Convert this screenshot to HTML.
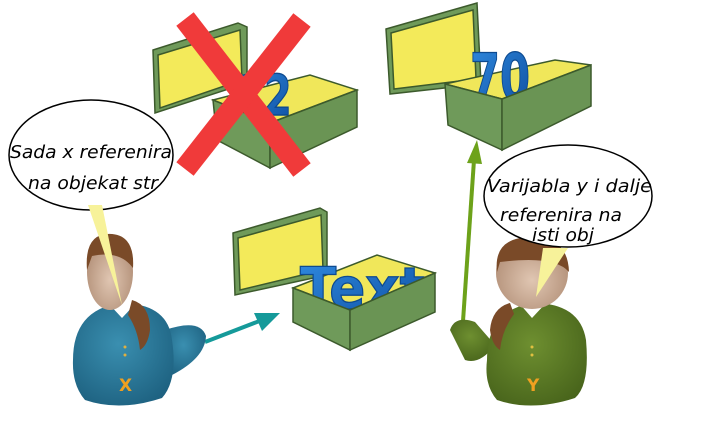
<!DOCTYPE html>
<html><head><meta charset="utf-8"><style>
html,body{margin:0;padding:0;background:#fff;}
svg{display:block;}
text{font-family:"DejaVu Sans","Liberation Sans",sans-serif;}
</style></head><body>
<svg width="705" height="423" viewBox="0 0 705 423" xmlns="http://www.w3.org/2000/svg">
<defs>
<radialGradient id="skin" cx="50%" cy="60%" r="60%"><stop offset="0" stop-color="#e0c6b2"/><stop offset="1" stop-color="#b08d75"/></radialGradient>
<radialGradient id="blue" cx="45%" cy="40%" r="70%"><stop offset="0" stop-color="#3a8fb0"/><stop offset="1" stop-color="#1c5f7e"/></radialGradient>
<radialGradient id="green" cx="45%" cy="40%" r="70%"><stop offset="0" stop-color="#6e8f30"/><stop offset="1" stop-color="#46621a"/></radialGradient>
<linearGradient id="num" x1="0" y1="0" x2="1" y2="1"><stop offset="0" stop-color="#2f8ae0"/><stop offset="1" stop-color="#0f4fa0"/></linearGradient>
</defs>

<!-- Box 1 -->
<g stroke="#3c5a2c" stroke-width="1.5">
<polygon points="153,50 238,23 247,27 247,83 155,113" fill="#6f9a5a"/>
<polygon points="158,55 240,30 242,80 160,108" fill="#f3ea5a"/>
<polygon points="213,100 310,75 357,90 270,123" fill="#f0e75a"/>
</g>
<text transform="translate(236,115) scale(1,1.4)" font-size="40" font-weight="bold" fill="url(#num)" stroke="#0d4a90" stroke-width="1" font-family="Liberation Sans">12</text>
<g stroke="#3c5a2c" stroke-width="1.5">
<polygon points="213,100 270,123 270,168 217,140" fill="#6f9a5a"/>
<polygon points="270,123 357,90 357,127 270,168" fill="#6a9454"/>
</g>

<!-- Box 2 -->
<g stroke="#3c5a2c" stroke-width="1.5">
<polygon points="386,29 477,3 481,84 390,94" fill="#6f9a5a"/>
<polygon points="391,33 473,10 476,79 394,89" fill="#f3ea5a"/>
<polygon points="445,84 555,60 591,65 502,99" fill="#f0e75a"/>
</g>
<text transform="translate(470,100) scale(0.9,1.35)" font-size="48" font-weight="bold" fill="url(#num)" stroke="#0d4a90" stroke-width="1" font-family="Liberation Sans">70</text>
<g stroke="#3c5a2c" stroke-width="1.5">
<polygon points="445,84 502,99 502,150 448,125" fill="#6f9a5a"/>
<polygon points="502,99 591,65 591,106 502,150" fill="#6a9454"/>
</g>

<!-- Box 3 -->
<g stroke="#3c5a2c" stroke-width="1.5">
<polygon points="233,233 320,208 327,212 327,275 235,295" fill="#6f9a5a"/>
<polygon points="238,238 321,215 323,270 240,290" fill="#f3ea5a"/>
<polygon points="293,288 377,255 435,273 350,310" fill="#f0e75a"/>
</g>
<text transform="translate(300,308) scale(1,1.3)" font-size="44" font-weight="bold" fill="url(#num)" stroke="#0d4a90" stroke-width="1" font-family="Liberation Sans" textLength="125" lengthAdjust="spacingAndGlyphs">Text</text>
<g stroke="#3c5a2c" stroke-width="1.5">
<polygon points="293,288 350,310 350,350 293,322" fill="#6f9a5a"/>
<polygon points="350,310 435,273 435,312 350,350" fill="#6a9454"/>
</g>

<!-- Red X -->
<g stroke="#f03a3a" stroke-width="22" stroke-linecap="butt">
<line x1="185" y1="19" x2="302" y2="170"/>
<line x1="302" y1="20" x2="185" y2="169"/>
</g>

<!-- arrows -->
<line x1="205" y1="342" x2="262" y2="320" stroke="#159a9a" stroke-width="4"/>
<polygon points="280,313 254,313 262,331" fill="#159a9a"/>
<line x1="462" y1="336" x2="474" y2="160" stroke="#6da21a" stroke-width="4"/>
<polygon points="477,140 467,163 482,164" fill="#6da21a"/>

<!-- Person X -->
<path d="M165,330 Q200,318 206,336 Q205,358 172,375 Z" fill="url(#blue)"/>
<path d="M73,360 Q73,310 120,303 Q168,303 172,340 Q178,380 162,398 Q120,412 85,400 Q72,385 73,360 Z" fill="url(#blue)"/>
<path d="M108,303 L122,318 L136,303 Z" fill="#fff"/>
<ellipse cx="110" cy="272" rx="23" ry="38" fill="url(#skin)"/>
<path d="M87,270 Q84,232 112,234 Q135,236 133,268 Q120,250 92,256 Z" fill="#7a4a28"/>
<path d="M132,300 Q150,305 150,330 Q148,345 140,350 Q138,330 128,315 Z" fill="#7a4a28"/>
<circle cx="125" cy="347" r="1.5" fill="#e0b040"/><circle cx="125" cy="355" r="1.5" fill="#e0b040"/>
<text x="119" y="391" font-size="17" font-weight="bold" fill="#f0a020" font-family="Liberation Sans">X</text>

<!-- Person Y -->
<path d="M450,330 Q455,315 475,322 L495,345 Q480,365 465,360 Z" fill="url(#green)"/>
<path d="M487,360 Q487,310 533,303 Q580,303 586,340 Q590,385 575,398 Q532,412 497,400 Q484,385 487,360 Z" fill="url(#green)"/>
<path d="M519,303 L532,318 L546,303 Z" fill="#fff"/>
<ellipse cx="532" cy="273" rx="36" ry="36" fill="url(#skin)"/>
<path d="M497,272 Q493,237 532,237 Q568,237 569,272 Q555,255 500,262 Z" fill="#7a4a28"/>
<path d="M510,303 Q492,308 490,330 Q492,345 500,350 Q502,330 514,314 Z" fill="#7a4a28"/>
<circle cx="532" cy="347" r="1.5" fill="#e0c040"/><circle cx="532" cy="355" r="1.5" fill="#e0c040"/>
<text x="527" y="391" font-size="17" font-weight="bold" fill="#f0a020" font-family="Liberation Sans">Y</text>

<!-- Bubble 1 -->
<ellipse cx="91" cy="155" rx="82" ry="55" fill="#fff" stroke="#000" stroke-width="1.5"/>
<polygon points="88,205 102,205 122,305" fill="#f7f29a"/>
<text x="10" y="158" font-size="18" font-style="italic" fill="#000" textLength="162" lengthAdjust="spacingAndGlyphs">Sada x referenira</text>
<text x="28" y="189" font-size="18" font-style="italic" fill="#000" textLength="130" lengthAdjust="spacingAndGlyphs">na objekat str</text>

<!-- Bubble 2 -->
<ellipse cx="568" cy="196" rx="84" ry="51" fill="#fff" stroke="#000" stroke-width="1.5"/>
<polygon points="543,248 568,248 536,297" fill="#f7f29a"/>
<text x="487" y="192" font-size="18" font-style="italic" fill="#000" textLength="165" lengthAdjust="spacingAndGlyphs">Varijabla y i dalje</text>
<text x="500" y="221" font-size="18" font-style="italic" fill="#000" textLength="122" lengthAdjust="spacingAndGlyphs">referenira na</text>
<text x="532" y="241" font-size="18" font-style="italic" fill="#000" textLength="62" lengthAdjust="spacingAndGlyphs">isti obj</text>
</svg>
</body></html>
